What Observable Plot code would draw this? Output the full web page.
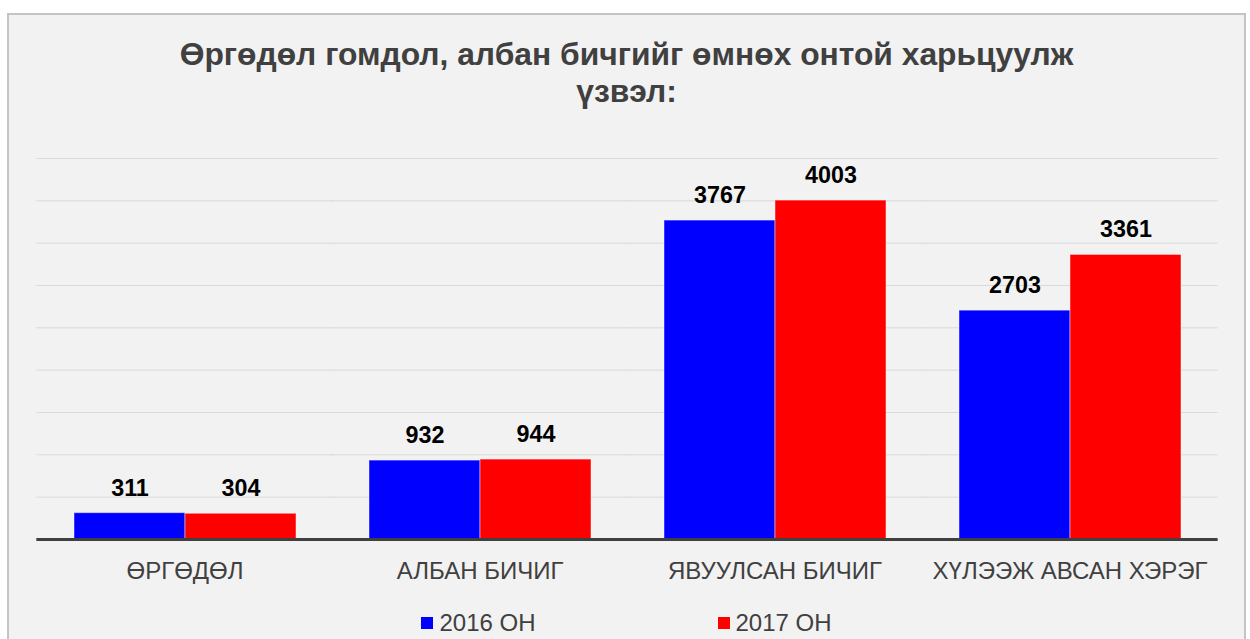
<!DOCTYPE html>
<html>
<head>
<meta charset="utf-8">
<script src="https://cdn.jsdelivr.net/npm/d3@7"></script>
<script src="https://cdn.jsdelivr.net/npm/@observablehq/plot@0.6"></script>
<style>
  html, body { margin: 0; padding: 0; background: #ffffff; width: 1250px; height: 639px; overflow: hidden; }
  body { font-family: "Liberation Sans", Arial, sans-serif; }
  #box { position: absolute; left: 7px; top: 13px; width: 1235px; height: 640px; background: #f2f2f2; border: 2px solid #c4c4c4; }
  #title { position: absolute; left: 0; top: 21px; width: 100%; text-align: center; font-size: 31.8px; line-height: 37px; font-weight: bold; color: #404040; }
  #chart { position: absolute; left: 0; top: 105px; }
  #legend { position: absolute; left: 0; top: 596px; width: 100%; display: flex; justify-content: center; gap: 182px; font-size: 24px; line-height: 24px; color: #404040; }
  .item { display: flex; align-items: center; }
  .sw { width: 12px; height: 12px; margin-right: 6px; box-sizing: border-box; }
</style>
</head>
<body>
<div id="box">
  <div id="title">Өргөдөл гомдол, албан бичгийг өмнөх онтой харьцуулж<br>үзвэл:</div>
  <div id="chart"></div>
  <div id="legend"></div>
</div>
<script>
const categories = ["ӨРГӨДӨЛ", "АЛБАН БИЧИГ", "ЯВУУЛСАН БИЧИГ", "ХҮЛЭЭЖ АВСАН ХЭРЭГ"];
const seriesNames = ["2016 ОН", "2017 ОН"];
const values2016 = [311, 932, 3767, 2703];
const values2017 = [304, 944, 4003, 3361];
const seriesColors = ["#0000ff", "#ff0000"];
const gridTicks = [500, 1000, 1500, 2000, 2500, 3000, 3500, 4000, 4500];

const data = [];
categories.forEach((c, i) => {
  data.push({category: c, series: seriesNames[0], value: values2016[i]});
  data.push({category: c, series: seriesNames[1], value: values2017[i]});
});

const W = 1235, mL = 28, mR = 28, padIn = 0.245, padOut = 0.12;
const step = (W - mL - mR) / (categories.length - padIn + 2 * padOut);
const ext = -(padIn * step) / 2 - 0.5; // extend rules across the gaps between facets

const plot = Plot.plot({
  width: W,
  height: 480,
  marginLeft: mL,
  marginRight: mR,
  marginTop: 38,
  marginBottom: 61,
  style: {background: "transparent", fontFamily: "'Liberation Sans', Arial, sans-serif"},
  fx: {domain: categories, paddingInner: padIn, paddingOuter: padOut, label: null},
  x: {domain: seriesNames, padding: 0, axis: null},
  y: {domain: [0, 4500], axis: null},
  color: {domain: seriesNames, range: seriesColors},
  marks: [
    Plot.ruleY(gridTicks, {stroke: "#d9d9d9", strokeWidth: 1, insetLeft: ext, insetRight: ext}),
    Plot.barY(data, {fx: "category", x: "series", y: "value", fill: "series", stroke: "#ffffff", strokeOpacity: 0.45, strokeWidth: 1}),
    Plot.text(data, {fx: "category", x: "series", y: "value", text: d => String(d.value), lineAnchor: "middle", dy: -25, fontSize: 23.3, fontWeight: "bold", fill: "#000000"}),
    Plot.ruleY([0], {stroke: "#404040", strokeWidth: 3, insetLeft: ext, insetRight: ext}),
    Plot.axisFx({anchor: "bottom", tickSize: 0, tickPadding: 22, fontSize: 24, color: "#404040", label: null})
  ]
});
document.getElementById("chart").appendChild(plot);

const legend = document.getElementById("legend");
seriesNames.forEach((s, i) => {
  const item = document.createElement("div");
  item.className = "item";
  const sw = document.createElement("div");
  sw.className = "sw";
  sw.style.background = seriesColors[i];
  const t = document.createElement("span");
  t.textContent = s;
  item.appendChild(sw);
  item.appendChild(t);
  legend.appendChild(item);
});
</script>
</body>
</html>
